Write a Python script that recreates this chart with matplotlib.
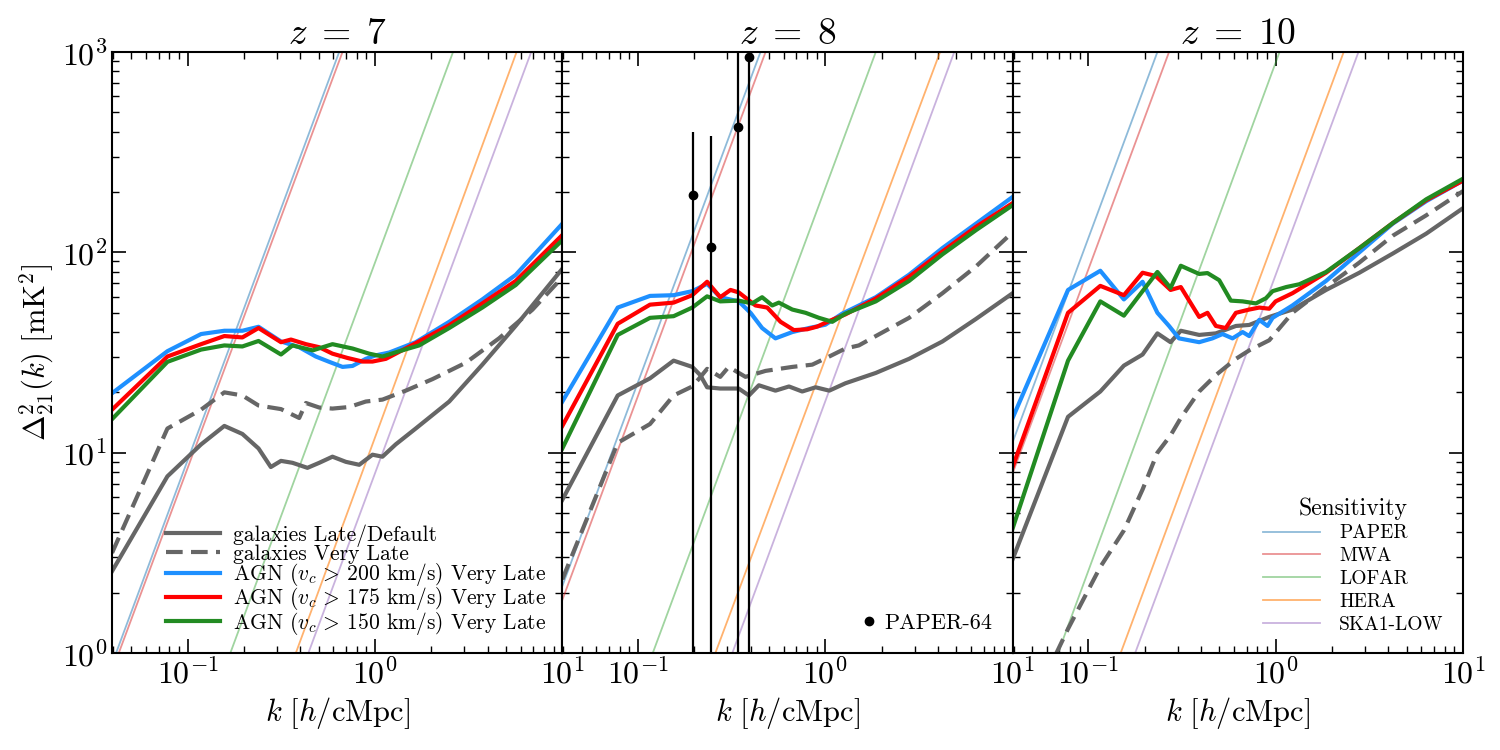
import numpy as np
import matplotlib
matplotlib.use("Agg")
import matplotlib.pyplot as plt
from matplotlib.lines import Line2D

plt.rcParams["font.family"] = "serif"
plt.rcParams["font.serif"] = ["cmr10", "DejaVu Serif"]
plt.rcParams["mathtext.fontset"] = "cm"
plt.rcParams["axes.formatter.use_mathtext"] = True
plt.rcParams["axes.unicode_minus"] = False

redshifts = [7, 8, 10]

# ---- model curves: (k [h/cMpc], Delta^2 [mK^2]) ----
# z = 7
k7_agn200 = [0.0395, 0.078, 0.118, 0.157, 0.196, 0.239, 0.315, 0.394, 0.483, 0.570, 0.671, 0.759, 0.893, 1.01, 1.19, 1.65, 2.49, 3.74, 5.64, 10]
d7_agn200 = [19.8, 32.1, 39.1, 40.6, 40.6, 42.5, 35.9, 33.6, 30.2, 28.4, 26.8, 27.1, 29.4, 30.6, 31.6, 35.6, 45, 58.2, 77.2, 139]
k7_agn175 = [0.0395, 0.078, 0.118, 0.157, 0.196, 0.239, 0.315, 0.356, 0.428, 0.504, 0.593, 0.713, 0.858, 0.970, 1.143, 1.65, 2.49, 3.74, 5.64, 10]
d7_agn175 = [16.4, 30.2, 34.8, 38.2, 37.6, 41.9, 35.6, 36.7, 34.8, 33.6, 31.2, 29.7, 28.5, 28.5, 29.4, 35.2, 43.3, 55.6, 72, 122]
k7_agn150 = [0.0395, 0.078, 0.118, 0.157, 0.196, 0.239, 0.315, 0.363, 0.465, 0.593, 0.759, 0.931, 1.096, 1.35, 1.72, 2.49, 3.74, 5.64, 10]
d7_agn150 = [14.7, 28.4, 32.7, 34.3, 33.9, 36.1, 30.9, 34.3, 32.4, 34.8, 33.1, 31.2, 30.2, 32.1, 34.3, 41.9, 53, 68.7, 115]
k7_gal = [0.0395, 0.078, 0.118, 0.157, 0.196, 0.239, 0.278, 0.315, 0.363, 0.436, 0.504, 0.593, 0.699, 0.824, 0.970, 1.096, 1.29, 1.65, 2.49, 3.74, 5.64, 10]
d7_gal = [2.56, 7.62, 11.0, 13.6, 12.4, 10.5, 8.48, 9.1, 8.9, 8.4, 8.9, 9.55, 9.0, 8.7, 9.77, 9.55, 11.0, 13.2, 18.0, 27.5, 43, 82.8]
k7_galvl = [0.0395, 0.078, 0.118, 0.157, 0.196, 0.239, 0.315, 0.394, 0.428, 0.504, 0.593, 0.728, 0.893, 1.096, 1.46, 2.03, 3.05, 4.59, 6.92, 10]
d7_galvl = [3.16, 13.2, 16.4, 20.0, 19.3, 17.2, 16.5, 14.9, 17.7, 16.8, 16.6, 16.9, 18.0, 18.4, 20.4, 23.3, 28.1, 37.2, 51.7, 75]

# z = 8
k8_agn200 = [0.0395, 0.078, 0.116, 0.155, 0.195, 0.234, 0.275, 0.345, 0.399, 0.460, 0.542, 0.667, 0.818, 1.00, 1.23, 1.86, 2.80, 4.22, 6.37, 10]
d8_agn200 = [18.0, 53, 60.6, 61.1, 64, 69.6, 59.7, 56.9, 49.9, 41.9, 37.2, 40, 41.9, 43.5, 49.4, 59.7, 77.3, 105, 139, 189]
k8_agn175 = [0.0395, 0.078, 0.116, 0.155, 0.195, 0.234, 0.275, 0.312, 0.345, 0.424, 0.490, 0.577, 0.680, 0.801, 0.906, 1.05, 1.28, 1.86, 2.80, 4.22, 6.37, 10]
d8_agn175 = [13.6, 44, 54.8, 56.1, 61.1, 71.3, 59.7, 64.9, 63.1, 54.3, 53, 45, 40.9, 41.3, 42.6, 45.4, 49, 58.8, 75.5, 101, 134, 176]
k8_agn150 = [0.0395, 0.078, 0.116, 0.155, 0.195, 0.234, 0.275, 0.345, 0.407, 0.460, 0.521, 0.565, 0.667, 0.785, 0.925, 1.09, 1.28, 1.86, 2.80, 4.22, 6.37, 10]
d8_agn150 = [10.5, 38.7, 47.1, 48, 53, 60.3, 56.9, 57.4, 55.6, 59.7, 54.3, 56.1, 51.8, 49.9, 47.1, 45, 49.4, 56.9, 72, 97.7, 129, 172]
k8_gal = [0.0395, 0.078, 0.116, 0.155, 0.195, 0.215, 0.234, 0.275, 0.345, 0.391, 0.442, 0.542, 0.640, 0.753, 0.888, 1.05, 1.28, 1.86, 2.80, 4.22, 6.37, 10]
d8_gal = [5.82, 19.3, 23.5, 28.8, 26.8, 24.4, 21.2, 20.9, 20.9, 19.3, 21.7, 20.4, 21.4, 20.2, 21.2, 20.4, 22.2, 25, 29.4, 35.9, 46.5, 62.5]
k8_galvl = [0.0395, 0.078, 0.116, 0.155, 0.195, 0.211, 0.234, 0.275, 0.305, 0.375, 0.480, 0.667, 0.852, 1.05, 1.28, 1.51, 1.86, 2.80, 4.22, 6.37, 10]
d8_galvl = [2.33, 11.2, 13.9, 19.3, 21.4, 23.3, 26.2, 23.9, 26.8, 23.9, 25.6, 26.8, 27.5, 30.2, 33.1, 34.3, 38.2, 47.1, 62.5, 85, 126]

# z = 10
k10_agn200 = [0.0395, 0.078, 0.116, 0.155, 0.195, 0.234, 0.270, 0.305, 0.391, 0.460, 0.521, 0.589, 0.667, 0.723, 0.818, 0.906, 0.964, 1.23, 1.86, 2.80, 4.22, 6.37, 10]
d10_agn200 = [14.9, 64.9, 80.9, 58.2, 71.3, 49.9, 42.9, 37.2, 35.6, 37.2, 39.1, 37.2, 40, 38.2, 46, 42.9, 47.1, 54.3, 72, 100, 139, 180, 228]
k10_agn175 = [0.0395, 0.078, 0.116, 0.155, 0.195, 0.229, 0.275, 0.312, 0.391, 0.433, 0.480, 0.542, 0.614, 0.723, 0.818, 0.925, 1.00, 1.23, 1.86, 2.80, 4.22, 6.37, 10]
d10_agn175 = [8.49, 49.9, 68, 61.1, 79.1, 76.2, 64.9, 67.1, 47.6, 49.9, 42.9, 41.9, 49.9, 51.8, 53, 52.3, 56.9, 62.5, 79.1, 105, 140, 182, 228]
k10_agn150 = [0.0395, 0.078, 0.116, 0.155, 0.195, 0.234, 0.275, 0.312, 0.391, 0.433, 0.500, 0.577, 0.667, 0.785, 0.888, 0.964, 1.14, 1.34, 1.86, 2.80, 4.22, 6.37, 10]
d10_agn150 = [4.19, 28.8, 56.9, 48.3, 64, 79.8, 66.4, 85.7, 78, 78.8, 72.6, 57.4, 56.9, 55.6, 59, 64, 67.1, 69.3, 79.8, 105, 140, 184, 233]
k10_gal = [0.0395, 0.078, 0.116, 0.155, 0.195, 0.234, 0.275, 0.312, 0.391, 0.480, 0.614, 0.723, 0.925, 1.23, 1.86, 2.80, 4.22, 6.37, 10]
d10_gal = [2.94, 15.1, 20.2, 27.2, 30.9, 39.4, 35.6, 40.6, 38.7, 39.4, 42.9, 43.4, 47.6, 51.8, 64.9, 79.1, 98.6, 124, 166]
k10_galvl = [0.0395, 0.078, 0.116, 0.155, 0.195, 0.234, 0.275, 0.312, 0.391, 0.480, 0.614, 0.723, 0.925, 1.23, 1.86, 2.80, 4.22, 6.37, 10]
d10_galvl = [0.35, 1.32, 2.69, 4.09, 6.55, 10, 12.2, 14.9, 20.2, 24.4, 29.4, 32.4, 36.4, 49.9, 67.1, 88.9, 121, 153, 202]

# ---- instrument sensitivity: k where the line crosses 1 and 1000 mK^2 ----
sens_names = ["PAPER", "MWA", "LOFAR", "HERA", "SKA1-LOW"]
sens_y = [1.0, 1000.0]
sens_k = {
    7: [(0.0415, 0.644), (0.0429, 0.671), (0.169, 2.61), (0.378, 5.70), (0.441, 6.82)],
    8: [(0.0291, 0.451), (0.0310, 0.480), (0.120, 1.86), (0.259, 4.10), (0.319, 4.88)],
    10: [(0.0151, 0.234), (0.0174, 0.270), (0.069, 1.05), (0.149, 2.31), (0.178, 2.77)],
}

# ---- PAPER-64 upper limits at z = 8 ----
paper64_k = [0.196, 0.245, 0.341, 0.391]
paper64_d = [193, 106, 422, 944]
paper64_hi = [398, 380, 5000, 5000]

models = {
    7: [(k7_gal, d7_gal), (k7_galvl, d7_galvl), (k7_agn200, d7_agn200), (k7_agn175, d7_agn175), (k7_agn150, d7_agn150)],
    8: [(k8_gal, d8_gal), (k8_galvl, d8_galvl), (k8_agn200, d8_agn200), (k8_agn175, d8_agn175), (k8_agn150, d8_agn150)],
    10: [(k10_gal, d10_gal), (k10_galvl, d10_galvl), (k10_agn200, d10_agn200), (k10_agn175, d10_agn175), (k10_agn150, d10_agn150)],
}
model_labels = [
    "galaxies Late/Default",
    "galaxies Very Late",
    r"AGN ($v_c\,>\,200$ km/s) Very Late",
    r"AGN ($v_c\,>\,175$ km/s) Very Late",
    r"AGN ($v_c\,>\,150$ km/s) Very Late",
]
model_colors = ["#666666", "#666666", "#1e90ff", "#ff0000", "#228b22"]
model_styles = ["-", "--", "-", "-", "-"]

sens_colors = ["#1f77b4", "#d62728", "#2ca02c", "#ff7f0e", "#9467bd"]
sens_alpha = [0.5, 0.5, 0.45, 0.6, 0.5]

fig, axes = plt.subplots(1, 3, figsize=(15, 7.5), dpi=100, sharey=True)
fig.subplots_adjust(left=0.0747, right=0.9753, bottom=0.1293, top=0.9307, wspace=0)

for ax, z in zip(axes, redshifts):
    sens_handles = []
    for (klo, khi), name, c, a in zip(sens_k[z], sens_names, sens_colors, sens_alpha):
        h, = ax.plot([klo, khi], sens_y, color=c, alpha=a, lw=1.3, label=name)
        sens_handles.append(h)

    model_handles = []
    for (k, d), lab, c, ls in zip(models[z], model_labels, model_colors, model_styles):
        if ls == "--":
            h, = ax.plot(k, d, color=c, lw=3, dashes=(4, 2), label=lab)
        else:
            h, = ax.plot(k, d, color=c, lw=3, label=lab)
        model_handles.append(h)

    ax.set_xscale("log")
    ax.set_yscale("log")
    ax.set_xlim(0.0395, 10)
    ax.set_ylim(1, 1000)
    ax.set_title(rf"$z\;=\;{z}$", fontsize=27, pad=6)
    ax.set_xlabel(r"$k\ [h/{\rm cMpc}]$", fontsize=22)
    ax.tick_params(which="both", direction="in", top=True, right=True, labelsize=23)
    ax.tick_params(which="major", length=10, width=1.2)
    ax.tick_params(which="minor", length=5, width=1.0)
    for sp in ax.spines.values():
        sp.set_linewidth(1.5)

    if z == 7:
        ax.legend(handles=model_handles, loc="lower right", frameon=False,
                  fontsize=15.5, handlelength=2.5, labelspacing=-0.12,
                  handletextpad=0.6, borderaxespad=0.35)
    if z == 8:
        d = np.array(paper64_d)
        lo = d - 0.001
        hi = np.array(paper64_hi) - d
        ax.errorbar(paper64_k, paper64_d, yerr=[lo, hi], fmt="o", color="black",
                    ms=6, elinewidth=1.6, capsize=0, label="PAPER-64")
        ax.legend(handles=[Line2D([], [], marker="o", ls="none", color="black", ms=6)],
                  labels=["PAPER-64"], loc="lower right", frameon=False, fontsize=16,
                  handlelength=1.0, handletextpad=0.2, borderaxespad=0.5)
    if z == 10:
        ax.legend(handles=sens_handles, loc="lower right", frameon=False,
                  fontsize=14, title="Sensitivity", title_fontsize=17,
                  handlelength=2.9, labelspacing=0.25, handletextpad=1.0,
                  borderaxespad=0.6)

axes[0].set_ylabel(r"$\Delta_{21}^2(k)\ [{\rm mK}^2]$", fontsize=22)
for ax in axes[1:]:
    ax.tick_params(labelleft=False)

fig.savefig("out.png", dpi=100)
